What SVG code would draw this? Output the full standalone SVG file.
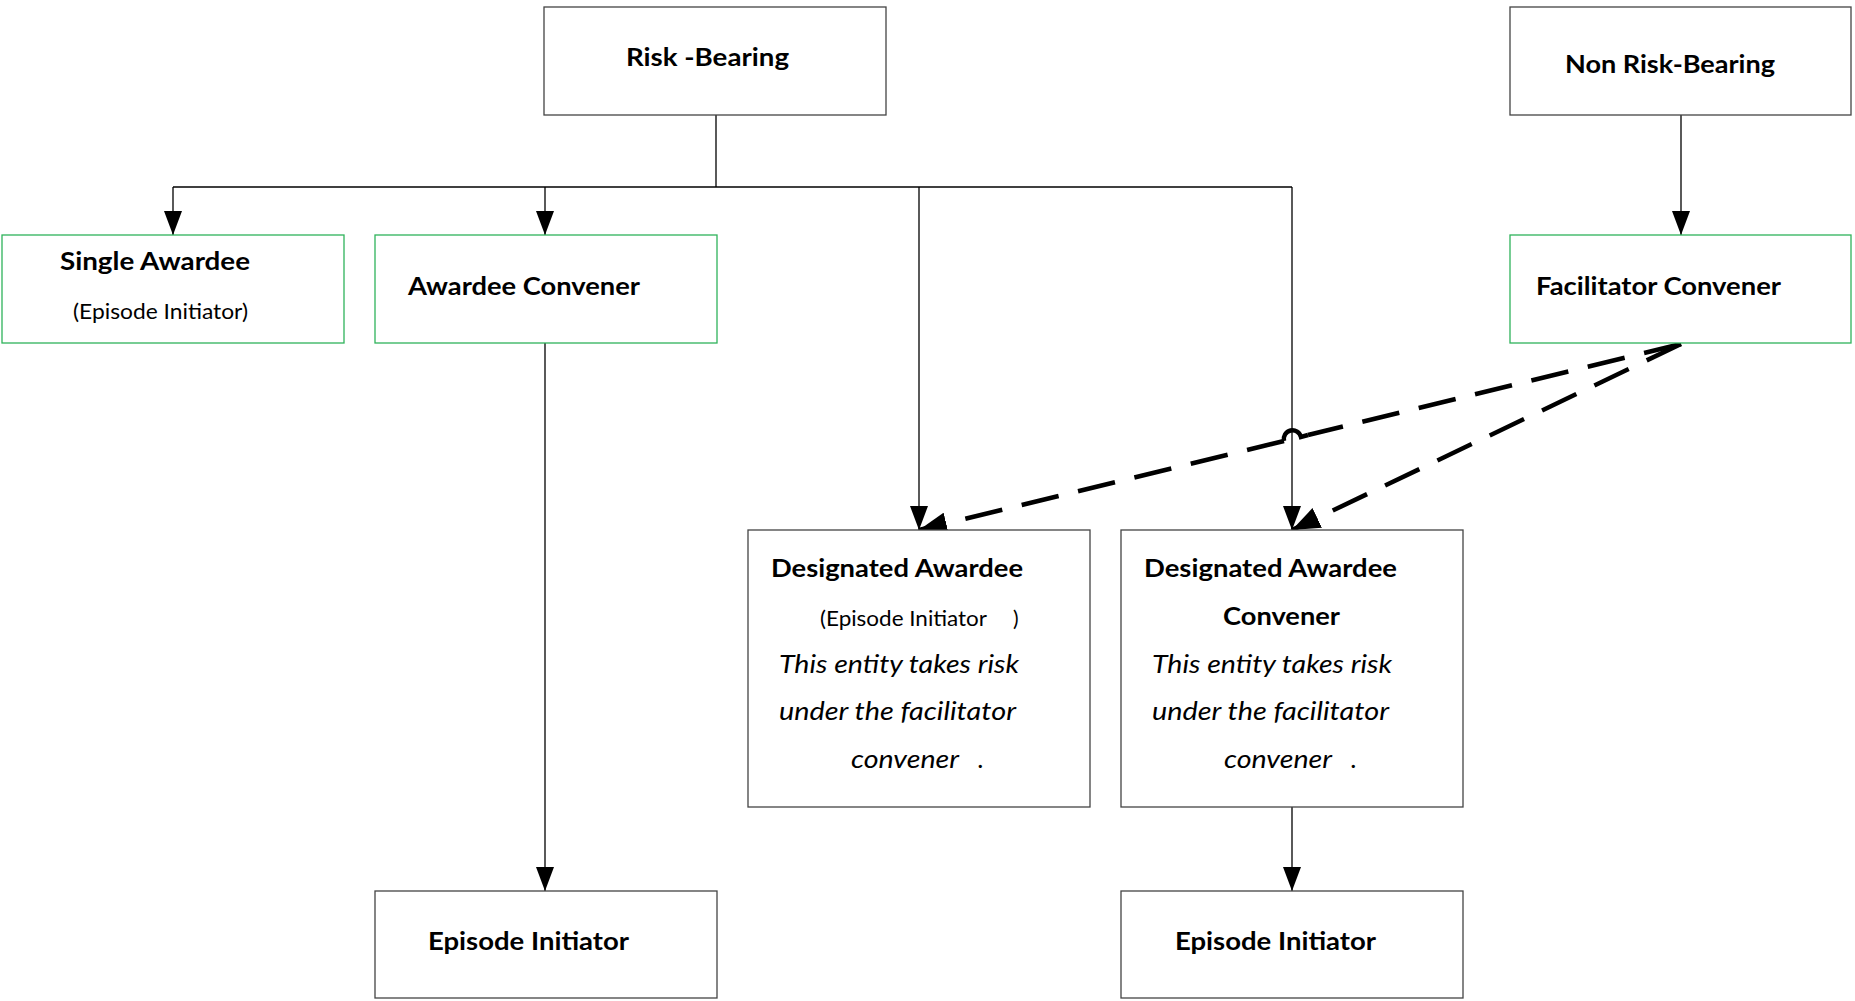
<svg xmlns="http://www.w3.org/2000/svg" width="1855" height="1001" viewBox="0 0 1855 1001">
<style>
.box{fill:#fff;stroke:#444;stroke-width:1.3}
.gbox{fill:#fff;stroke:#2fb35b;stroke-width:1.3}
.t{font-family:Lato,"Open Sans",sans-serif;font-weight:bold;font-size:25px;fill:#000}
.s{font-family:Lato,"Open Sans",sans-serif;font-size:21px;fill:#000}
.i{font-family:Lato,"Open Sans",sans-serif;font-style:italic;font-size:26px;fill:#000}
.c{fill:none;stroke:#000;stroke-width:1.3}
.d{fill:none;stroke:#000;stroke-width:4.5;stroke-dasharray:38 20}
.h{fill:none;stroke:#000;stroke-width:4.5}
</style>
<defs>
<marker id="ah" markerUnits="userSpaceOnUse" markerWidth="24" markerHeight="18" refX="24" refY="9" orient="auto" viewBox="0 0 24 18">
<path d="M0,0 L24,9 L0,18 z" fill="#000"/>
</marker>
<marker id="ahd" markerUnits="userSpaceOnUse" markerWidth="28" markerHeight="22" refX="28" refY="11" orient="auto" viewBox="0 0 28 22">
<path d="M0,0 L28,11 L0,22 z" fill="#000"/>
</marker>
</defs>
<g id="connectors">
<path class="c" d="M716,115 V187"/>
<path class="c" d="M173,187 H1292"/>
<path class="c" d="M173,187 V235" marker-end="url(#ah)"/>
<path class="c" d="M545,187 V235" marker-end="url(#ah)"/>
<path class="c" d="M919,187 V530" marker-end="url(#ah)"/>
<path class="c" d="M1292,187 V530" marker-end="url(#ah)"/>
<path class="c" d="M1681,115 V235" marker-end="url(#ah)"/>
<path class="c" d="M545,343 V891" marker-end="url(#ah)"/>
<path class="c" d="M1292,807 V891" marker-end="url(#ah)"/>
<path class="d" d="M1681,344 L1308,435"/>
<path class="h" d="M1308,435 L1301,437 A8.5,8.5 0 0 0 1284,441"/>
<path class="d" d="M1284,441 L919,530" marker-end="url(#ahd)"/>
<path class="d" d="M1681,344 L1292,530" marker-end="url(#ahd)"/>
</g>
<g id="risk-bearing">
<rect class="box" x="544" y="7" width="342" height="108"/>
<text class="t" x="626" y="66" textLength="163" lengthAdjust="spacingAndGlyphs">Risk -Bearing</text>
</g>
<g id="non-risk-bearing">
<rect class="box" x="1510" y="7" width="341" height="108"/>
<text class="t" x="1565" y="73" textLength="210" lengthAdjust="spacingAndGlyphs">Non Risk-Bearing</text>
</g>
<g id="single-awardee">
<rect class="gbox" x="2" y="235" width="342" height="108"/>
<text class="t" x="60" y="270" textLength="190" lengthAdjust="spacingAndGlyphs">Single Awardee</text>
<text class="s" x="73" y="319" textLength="175" lengthAdjust="spacingAndGlyphs">(Episode Initiator)</text>
</g>
<g id="awardee-convener">
<rect class="gbox" x="375" y="235" width="342" height="108"/>
<text class="t" x="408" y="295" textLength="232" lengthAdjust="spacingAndGlyphs">Awardee Convener</text>
</g>
<g id="facilitator-convener">
<rect class="gbox" x="1510" y="235" width="341" height="108"/>
<text class="t" x="1536" y="295" textLength="245" lengthAdjust="spacingAndGlyphs">Facilitator Convener</text>
</g>
<g id="designated-awardee">
<rect class="box" x="748" y="530" width="342" height="277"/>
<text class="t" x="771" y="577" textLength="252" lengthAdjust="spacingAndGlyphs">Designated Awardee</text>
<text class="s" x="820" y="626" textLength="167" lengthAdjust="spacingAndGlyphs">(Episode Initiator</text>
<text class="s" x="1013" y="626">)</text>
<text class="i" x="779" y="673" textLength="240" lengthAdjust="spacingAndGlyphs">This entity takes risk</text>
<text class="i" x="779" y="720" textLength="237" lengthAdjust="spacingAndGlyphs">under the facilitator</text>
<text class="i" x="851" y="768" textLength="108" lengthAdjust="spacingAndGlyphs">convener</text>
<text class="i" x="978" y="768">.</text>
</g>
<g id="designated-awardee-convener">
<rect class="box" x="1121" y="530" width="342" height="277"/>
<text class="t" x="1144" y="577" textLength="253" lengthAdjust="spacingAndGlyphs">Designated Awardee</text>
<text class="t" x="1223" y="625" textLength="117" lengthAdjust="spacingAndGlyphs">Convener</text>
<text class="i" x="1152" y="673" textLength="240" lengthAdjust="spacingAndGlyphs">This entity takes risk</text>
<text class="i" x="1152" y="720" textLength="237" lengthAdjust="spacingAndGlyphs">under the facilitator</text>
<text class="i" x="1224" y="768" textLength="108" lengthAdjust="spacingAndGlyphs">convener</text>
<text class="i" x="1351" y="768">.</text>
</g>
<g id="episode-initiator-1">
<rect class="box" x="375" y="891" width="342" height="107"/>
<text class="t" x="428" y="950" textLength="201" lengthAdjust="spacingAndGlyphs">Episode Initiator</text>
</g>
<g id="episode-initiator-2">
<rect class="box" x="1121" y="891" width="342" height="107"/>
<text class="t" x="1175" y="950" textLength="201" lengthAdjust="spacingAndGlyphs">Episode Initiator</text>
</g>
</svg>
